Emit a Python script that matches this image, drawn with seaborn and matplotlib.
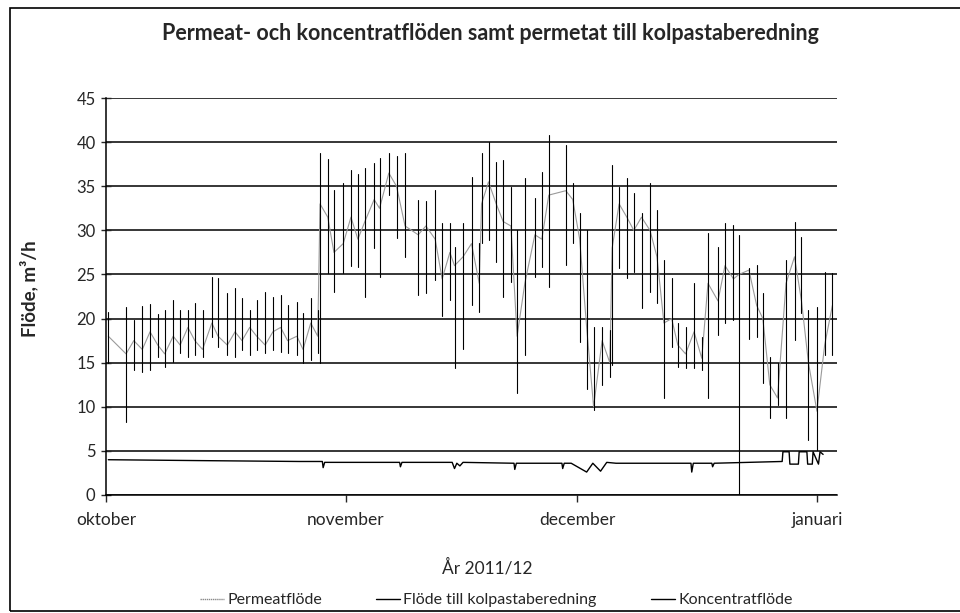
import numpy as np
import pandas as pd
import seaborn as sns
import matplotlib.pyplot as plt
from matplotlib.patches import Rectangle
from matplotlib.lines import Line2D

# Flöde till kolpastaberedning: days after 1 Oct 2011, high/low of each daily swing
spike_day = [0.3, 2.6, 3.6, 4.7, 5.7, 6.7, 7.6, 8.7, 9.6, 10.6, 11.5, 12.5, 13.7, 14.5,
             15.7, 16.7, 17.6, 18.6, 19.5, 20.6, 21.6, 22.6, 23.5, 24.7, 25.5, 26.5, 27.4,
             27.7, 28.7, 29.5, 30.7, 31.7, 32.6, 33.5, 34.7, 35.4, 36.6, 37.6, 38.7, 40.4,
             41.4, 42.6, 43.5, 44.5, 45.1, 46.2, 47.3, 48.3, 48.6, 49.5, 50.5, 51.4, 52.4,
             53.2, 54.2, 55.5, 56.4, 57.3, 59.5, 60.4, 61.3, 62.2, 63.1, 64.2, 65.2, 65.5,
             66.4, 67.4, 68.3, 69.3, 70.4, 71.3, 72.2, 73.2, 74.0, 75.0, 76.1, 77.1, 77.9,
             79.2, 80.1, 81.2, 81.9, 83.2, 84.2, 85.0, 85.9, 86.9, 88.0, 89.1, 90.0, 90.9,
             92.0, 93.0, 94.0]
spike_hi = [20.7, 21.3, 19.8, 21.4, 21.7, 20.5, 21.0, 22.1, 21.0, 21.0, 21.8, 21.0, 24.7, 24.6,
            22.9, 23.5, 22.3, 21.0, 22.1, 23.0, 22.4, 22.7, 21.5, 21.9, 20.6, 22.3, 21.0,
            38.8, 38.1, 34.6, 35.4, 36.9, 36.4, 37.1, 37.6, 38.2, 38.8, 38.4, 38.8, 33.4,
            33.3, 34.6, 30.8, 30.8, 28.1, 30.8, 36.0, 28.6, 38.8, 40.0, 37.8, 38.0, 34.9,
            30.0, 35.9, 33.7, 36.6, 40.8, 39.7, 35.4, 32.0, 30.0, 19.0, 19.0, 18.7, 37.4,
            34.9, 35.9, 34.2, 32.0, 35.4, 32.3, 26.6, 24.6, 19.5, 19.0, 24.0, 17.9, 29.7,
            28.1, 30.8, 30.6, 29.5, 25.7, 26.1, 22.9, 15.6, 15.0, 26.6, 31.0, 29.3, 21.0,
            21.3, 25.3, 25.2]
spike_lo = [15.0, 8.3, 14.2, 14.0, 14.2, 15.6, 14.5, 15.1, 16.1, 15.6, 15.9, 15.6, 17.9, 16.8,
            15.9, 15.6, 16.4, 15.9, 16.4, 16.1, 16.4, 16.2, 16.1, 15.9, 15.0, 15.3, 16.1,
            15.0, 25.2, 23.0, 25.2, 26.0, 25.9, 22.4, 28.0, 24.7, 34.0, 29.1, 27.0, 22.7,
            22.9, 24.4, 20.3, 22.1, 14.4, 16.5, 21.5, 20.7, 28.6, 28.9, 26.4, 22.4, 24.1,
            11.6, 15.9, 24.7, 25.9, 23.6, 26.1, 28.6, 17.3, 12.0, 9.6, 12.5, 13.4, 14.7,
            25.7, 24.6, 25.3, 21.2, 23.0, 21.8, 11.0, 16.8, 14.5, 14.4, 14.4, 14.2, 11.0,
            18.1, 19.5, 19.8, 0.0, 17.7, 17.9, 12.7, 8.7, 10.2, 8.7, 17.6, 20.6, 6.2,
            5.1, 15.9, 15.9]

# Permeatflöde (grey line), same days
perm_val = [18.0, 16.0, 17.5, 16.5, 18.5, 17.0, 16.0, 18.0, 17.0, 19.0, 17.5, 16.5, 19.5, 18.0,
            17.0, 18.5, 17.5, 19.0, 18.0, 17.0, 18.5, 19.0, 17.5, 18.0, 16.5, 19.5, 18.0,
            33.0, 31.5, 27.5, 28.5, 31.5, 29.0, 31.0, 33.5, 32.5, 36.5, 35.0, 30.5, 29.5,
            30.5, 29.0, 24.5, 27.5, 26.0, 27.0, 28.5, 24.0, 33.0, 35.5, 33.0, 31.0, 30.5,
            18.0, 24.0, 29.5, 29.0, 34.0, 34.5, 33.5, 29.0, 19.0, 10.0, 17.5, 15.0, 28.0,
            33.0, 31.5, 30.0, 31.5, 30.0, 27.0, 19.5, 20.0, 17.0, 16.0, 18.5, 15.5, 24.0,
            22.0, 26.0, 24.5, 25.0, 25.5, 21.5, 20.0, 12.5, 11.0, 24.0, 27.0, 22.0, 15.0,
            9.5, 17.0, 21.5]

# Koncentratflöde
konc_day = [0.3, 12, 25, 28.0, 28.1, 28.3, 36, 38.0, 38.1, 38.3, 44.8, 45.1, 45.4, 45.8,
            46.2, 52.8, 52.9, 53.1, 59.0, 59.1, 59.3, 60.2, 62.2, 63.0, 64.0, 64.8, 66,
            75.7, 75.8, 76.0, 78.4, 78.5, 78.7, 87.5, 87.6, 88.4, 88.5, 89.6, 89.7, 90.7,
            90.8, 91.4, 91.5, 92.2, 92.4, 92.8]
konc_val = [4.0, 3.9, 3.8, 3.8, 3.1, 3.7, 3.7, 3.7, 3.2, 3.7, 3.7, 3.0, 3.6, 3.3,
            3.7, 3.6, 2.9, 3.6, 3.6, 3.0, 3.6, 3.6, 2.6, 3.6, 2.7, 3.7, 3.6,
            3.6, 2.6, 3.6, 3.6, 3.2, 3.6, 3.8, 4.9, 4.9, 3.5, 3.5, 4.9, 4.9,
            3.5, 3.5, 4.9, 3.5, 4.9, 4.6]

month_days = [0, 31, 61, 92]
month_labels = ['oktober', 'november', 'december', 'januari']
y_ticks = [0, 5, 10, 15, 20, 25, 30, 35, 40, 45]

n = len(spike_day)
spikes = pd.DataFrame({
    'day': spike_day + spike_day,
    'flow': spike_hi + spike_lo,
    'unit': list(range(n)) * 2,
})
perm = pd.DataFrame({'day': spike_day, 'flow': perm_val})
konc = pd.DataFrame({'day': konc_day, 'flow': konc_val})

sns.set_style('white')
plt.rcParams['font.family'] = ['Lato', 'DejaVu Sans']

fig = plt.figure(figsize=(9.6, 6.13), dpi=100)
ax = fig.add_axes([0.1104, 0.1925, 0.7615, 0.6475])

sns.lineplot(data=perm, x='day', y='flow', color='#9a9a9a', lw=0.8, ax=ax)
sns.lineplot(data=spikes, x='day', y='flow', units='unit', estimator=None,
             color='black', lw=0.8, ax=ax)
sns.lineplot(data=konc, x='day', y='flow', color='black', lw=1.0, ax=ax)

ax.set_xlim(0, 94.6)
ax.set_ylim(0, 45)
ax.set_yticks(y_ticks)
ax.set_xticks(month_days)
ax.set_xticklabels(month_labels)
ax.yaxis.grid(True, color='black', lw=1.1)
ax.xaxis.grid(False)
for s in ['top', 'right']:
    ax.spines[s].set_visible(False)
for s in ['left', 'bottom']:
    ax.spines[s].set_color('black')
    ax.spines[s].set_linewidth(1.1)
ax.tick_params(axis='y', direction='inout', length=7, width=1, labelsize=12, pad=4, left=True)
ax.tick_params(axis='x', direction='out', length=5, width=1, labelsize=12.5, pad=7, bottom=True)

ax.set_ylabel('Flöde, m³/h', fontsize=13.5, fontweight='bold')
ax.yaxis.set_label_coords(-0.093, 0.52)
ax.set_xlabel('År 2011/12', fontsize=12.5)
ax.xaxis.set_label_coords(0.521, -0.16)

fig.text(0.511, 0.946, 'Permeat- och koncentratflöden samt permetat till kolpastaberedning',
         ha='center', va='center', fontsize=15.5, fontweight='bold')

handles = [
    Line2D([], [], color='#8a8a8a', lw=1.0, ls=(0, (1, 0.5))),
    Line2D([], [], color='black', lw=1.0),
    Line2D([], [], color='black', lw=1.0),
]
fig.legend(handles, ['Permeatflöde', 'Flöde till kolpastaberedning', 'Koncentratflöde'],
           loc='center', bbox_to_anchor=(0.517, 0.021), ncol=3, frameon=False,
           fontsize=11.5, handlelength=1.5, handletextpad=0.2, columnspacing=3.4)

fig.add_artist(Rectangle((0.0104, 0.0033), 1.2, 0.9837, transform=fig.transFigure,
                         fill=False, edgecolor='black', lw=1.2, clip_on=False))

fig.savefig('out.png', dpi=100)
